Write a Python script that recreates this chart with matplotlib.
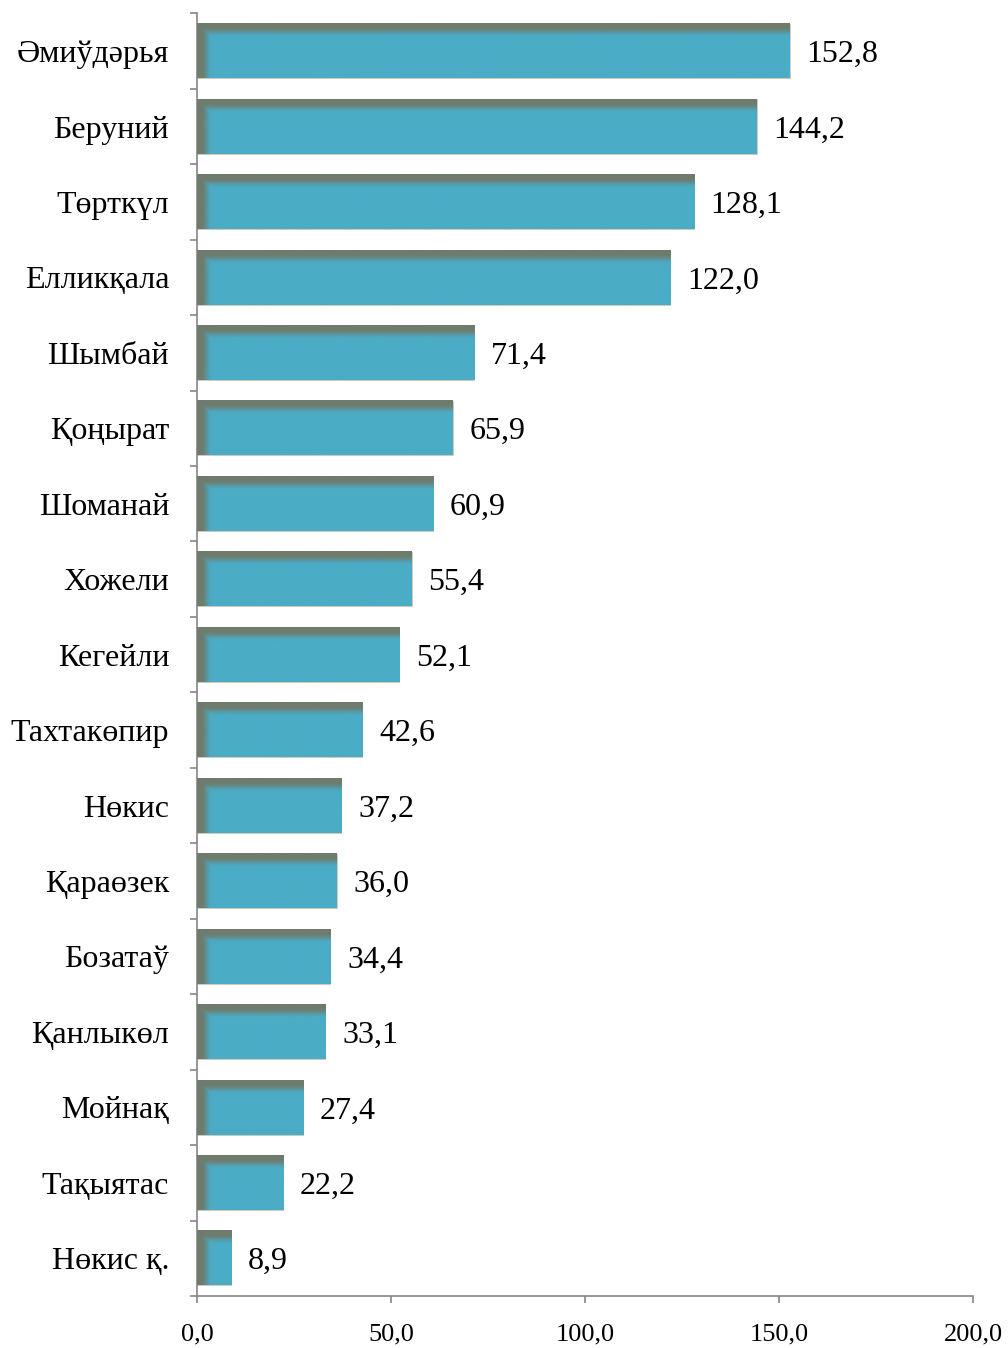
import numpy as np
import matplotlib.pyplot as plt
from matplotlib.colors import to_rgb

plt.rcParams['font.family'] = ['Liberation Serif', 'DejaVu Serif']

# Data (top to bottom as shown)
districts = ['Әмиўдәрья', 'Беруний', 'Төрткүл', 'Елликқала', 'Шымбай', 'Қоңырат',
             'Шоманай', 'Хожели', 'Кегейли', 'Тахтакөпир', 'Нөкис', 'Қараөзек',
             'Бозатаў', 'Қанлыкөл', 'Мойнақ', 'Тақыятас', 'Нөкис қ.']
values = [152.8, 144.2, 128.1, 122.0, 71.4, 65.9, 60.9, 55.4, 52.1, 42.6,
          37.2, 36.0, 34.4, 33.1, 27.4, 22.2, 8.9]
xticks = [0, 50, 100, 150, 200]

bar_color = '#4BACC6'
shade_color = '#6F7B6D'
axis_color = '#868686'

fig = plt.figure(figsize=(10.08, 13.48), dpi=100)
ax = fig.add_axes([0.1954, 0.0386, 0.7699, 0.9515])

n = len(districts)
ypos = np.arange(n)[::-1]
h = 0.72

ax.barh(ypos, values, height=h, color=bar_color, edgecolor='#D8C8B8', linewidth=0.6, zorder=2)

# shaded left and top edges of each bar (soft gradient)
base = np.array(to_rgb(bar_color))
dark = np.array(to_rgb(shade_color))
for y, v in zip(ypos, values):
    nx, ny = int(v * 12) + 20, 120
    xs = np.linspace(0, v, nx)
    ys = np.linspace(0, h, ny)  # distance from top
    X, Y = np.meshgrid(xs, ys)
    a_left = np.clip(1.4 * (1 - X / 3.8), 0, 1)
    a_top = np.clip(1.4 * (1 - Y / 0.18), 0, 1)
    a = np.maximum(a_left, a_top)
    a = a * a * (3 - 2 * a)
    img = base[None, None, :] * (1 - a[..., None]) + dark[None, None, :] * a[..., None]
    ax.imshow(img, extent=[0, v, y - h / 2, y + h / 2], origin='upper',
              aspect='auto', interpolation='bilinear', zorder=3)

for y, v in zip(ypos, values):
    ax.text(v + 4.3, y, f'{v:.1f}'.replace('.', ','), va='center_baseline', ha='left',
            fontsize=23, color='black')

ax.set_xlim(0, 200)
ax.set_ylim(-0.5, n - 0.5)
ax.set_xticks(xticks)
ax.set_xticklabels([f'{t:.1f}'.replace('.', ',') for t in xticks], fontsize=19)
ax.tick_params(axis='x', length=5, width=1.2, color=axis_color, pad=15)

ax.set_yticks(ypos)
ax.set_yticklabels(districts, fontsize=23)
ax.set_yticks(np.arange(-0.5, n, 1), minor=True)
ax.tick_params(axis='y', which='major', length=0, pad=20)
ax.tick_params(axis='y', which='minor', length=5, width=1.2, color=axis_color)

for s in ['top', 'right']:
    ax.spines[s].set_visible(False)
for s in ['left', 'bottom']:
    ax.spines[s].set_color(axis_color)
    ax.spines[s].set_linewidth(1.2)

fig.savefig('out.png', dpi=100)
